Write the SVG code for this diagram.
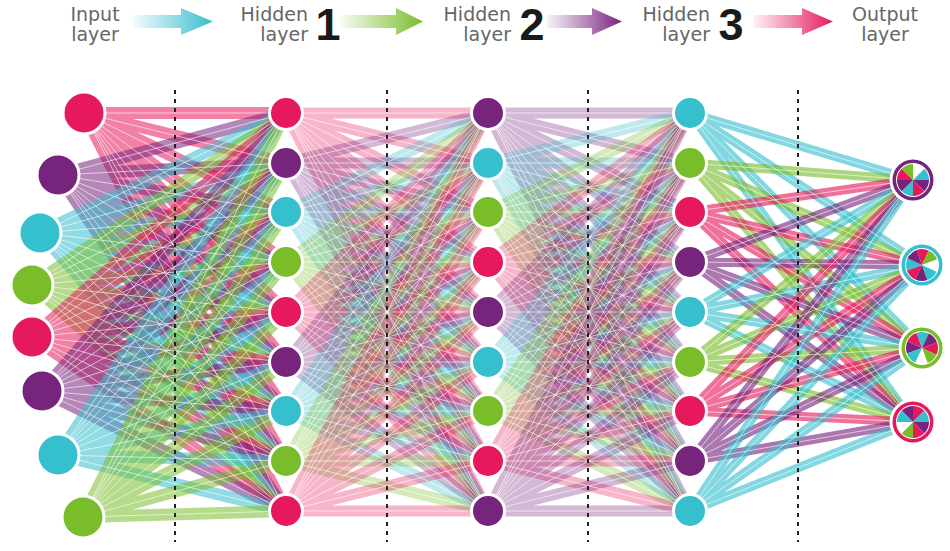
<svg xmlns="http://www.w3.org/2000/svg" xmlns:xlink="http://www.w3.org/1999/xlink" width="950" height="551" viewBox="0 0 950 551">
<style>
.hd{font-family:"DejaVu Sans","Liberation Sans",sans-serif;font-size:19px;fill:#666}
.num{font-family:"Liberation Sans",Arial,sans-serif;font-weight:bold;font-size:45px;fill:#1a1a1a}
.dash{stroke:#222;stroke-width:2;stroke-dasharray:4 5;fill:none}
.R{fill:#e5195b}.P{fill:#77247d}.C{fill:#36bfcd}.G{fill:#79bd2b}
.node{stroke:#fff;stroke-width:3}
.ein{stroke-width:12;stroke-opacity:0.55}
.eh{stroke-width:11;stroke-opacity:0.32}
.eo{stroke-width:9;stroke-opacity:0.62}
.w{stroke:#fff;stroke-width:1;stroke-opacity:0.6}
.sr{stroke:#e5195b}.sp{stroke:#77247d}.sc{stroke:#36bfcd}.sg{stroke:#79bd2b}
</style>
<defs>
<linearGradient id="gc" x1="0" x2="1" y1="0" y2="0"><stop offset="0" stop-color="#36bfcd" stop-opacity="0.05"/><stop offset="1" stop-color="#36bfcd"/></linearGradient>
<linearGradient id="gg" x1="0" x2="1" y1="0" y2="0"><stop offset="0" stop-color="#79bd2b" stop-opacity="0.05"/><stop offset="1" stop-color="#79bd2b"/></linearGradient>
<linearGradient id="gp" x1="0" x2="1" y1="0" y2="0"><stop offset="0" stop-color="#77247d" stop-opacity="0.05"/><stop offset="1" stop-color="#77247d"/></linearGradient>
<linearGradient id="gr" x1="0" x2="1" y1="0" y2="0"><stop offset="0" stop-color="#e5195b" stop-opacity="0.05"/><stop offset="1" stop-color="#e5195b"/></linearGradient>
<path id="a0" fill="none" d="M84 113L286 113M84 113L286 163M84 113L286 212M84 113L286 262M84 113L286 312M84 113L286 362M84 113L286 411M84 113L286 461M84 113L286 511"/>
<path id="a1" fill="none" d="M58 175L286 113M58 175L286 163M58 175L286 212M58 175L286 262M58 175L286 312M58 175L286 362M58 175L286 411M58 175L286 461M58 175L286 511"/>
<path id="a2" fill="none" d="M40 233L286 113M40 233L286 163M40 233L286 212M40 233L286 262M40 233L286 312M40 233L286 362M40 233L286 411M40 233L286 461M40 233L286 511"/>
<path id="a3" fill="none" d="M32 285L286 113M32 285L286 163M32 285L286 212M32 285L286 262M32 285L286 312M32 285L286 362M32 285L286 411M32 285L286 461M32 285L286 511"/>
<path id="a4" fill="none" d="M32 337L286 113M32 337L286 163M32 337L286 212M32 337L286 262M32 337L286 312M32 337L286 362M32 337L286 411M32 337L286 461M32 337L286 511"/>
<path id="a5" fill="none" d="M42 391L286 113M42 391L286 163M42 391L286 212M42 391L286 262M42 391L286 312M42 391L286 362M42 391L286 411M42 391L286 461M42 391L286 511"/>
<path id="a6" fill="none" d="M58 455L286 113M58 455L286 163M58 455L286 212M58 455L286 262M58 455L286 312M58 455L286 362M58 455L286 411M58 455L286 461M58 455L286 511"/>
<path id="a7" fill="none" d="M83 517L286 113M83 517L286 163M83 517L286 212M83 517L286 262M83 517L286 312M83 517L286 362M83 517L286 411M83 517L286 461M83 517L286 511"/>
<path id="f0" fill="none" d="M0 113L202 113M0 113L202 163M0 113L202 212M0 113L202 262M0 113L202 312M0 113L202 362M0 113L202 411M0 113L202 461M0 113L202 511"/>
<path id="f1" fill="none" d="M0 163L202 113M0 163L202 163M0 163L202 212M0 163L202 262M0 163L202 312M0 163L202 362M0 163L202 411M0 163L202 461M0 163L202 511"/>
<path id="f2" fill="none" d="M0 212L202 113M0 212L202 163M0 212L202 212M0 212L202 262M0 212L202 312M0 212L202 362M0 212L202 411M0 212L202 461M0 212L202 511"/>
<path id="f3" fill="none" d="M0 262L202 113M0 262L202 163M0 262L202 212M0 262L202 262M0 262L202 312M0 262L202 362M0 262L202 411M0 262L202 461M0 262L202 511"/>
<path id="f4" fill="none" d="M0 312L202 113M0 312L202 163M0 312L202 212M0 312L202 262M0 312L202 312M0 312L202 362M0 312L202 411M0 312L202 461M0 312L202 511"/>
<path id="f5" fill="none" d="M0 362L202 113M0 362L202 163M0 362L202 212M0 362L202 262M0 362L202 312M0 362L202 362M0 362L202 411M0 362L202 461M0 362L202 511"/>
<path id="f6" fill="none" d="M0 411L202 113M0 411L202 163M0 411L202 212M0 411L202 262M0 411L202 312M0 411L202 362M0 411L202 411M0 411L202 461M0 411L202 511"/>
<path id="f7" fill="none" d="M0 461L202 113M0 461L202 163M0 461L202 212M0 461L202 262M0 461L202 312M0 461L202 362M0 461L202 411M0 461L202 461M0 461L202 511"/>
<path id="f8" fill="none" d="M0 511L202 113M0 511L202 163M0 511L202 212M0 511L202 262M0 511L202 312M0 511L202 362M0 511L202 411M0 511L202 461M0 511L202 511"/>
<path id="g0" fill="none" d="M690 113L913 180M690 113L922 265M690 113L922 348M690 113L913 422"/>
<path id="g1" fill="none" d="M690 163L913 180M690 163L922 265M690 163L922 348M690 163L913 422"/>
<path id="g2" fill="none" d="M690 212L913 180M690 212L922 265M690 212L922 348M690 212L913 422"/>
<path id="g3" fill="none" d="M690 262L913 180M690 262L922 265M690 262L922 348M690 262L913 422"/>
<path id="g4" fill="none" d="M690 312L913 180M690 312L922 265M690 312L922 348M690 312L913 422"/>
<path id="g5" fill="none" d="M690 362L913 180M690 362L922 265M690 362L922 348M690 362L913 422"/>
<path id="g6" fill="none" d="M690 411L913 180M690 411L922 265M690 411L922 348M690 411L913 422"/>
<path id="g7" fill="none" d="M690 461L913 180M690 461L922 265M690 461L922 348M690 461L913 422"/>
<path id="g8" fill="none" d="M690 511L913 180M690 511L922 265M690 511L922 348M690 511L913 422"/>
<g id="pie">
<path class="P" d="M0 0L16 0A16 16 0 0 1 11.31 11.31Z"/>
<path class="R" d="M0 0L11.31 11.31A16 16 0 0 1 0 16Z"/>
<path class="C" d="M0 0L0 16A16 16 0 0 1 -11.31 11.31Z"/>
<path class="P" d="M0 0L-11.31 11.31A16 16 0 0 1 -16 0Z"/>
<path class="R" d="M0 0L-16 0A16 16 0 0 1 -11.31 -11.31Z"/>
<path class="G" d="M0 0L-11.31 -11.31A16 16 0 0 1 0 -16Z"/>
<path fill="#fff" d="M0 0L0 -16A16 16 0 0 1 11.31 -11.31Z"/>
<path class="C" d="M0 0L11.31 -11.31A16 16 0 0 1 16 0Z"/>
</g>
</defs>
<rect width="950" height="551" fill="#fff"/>
<g id="header">
<text class="hd" x="95" y="21" text-anchor="middle">Input</text>
<text class="hd" x="95" y="41" text-anchor="middle">layer</text>
<polygon fill="url(#gc)" points="133,15 181,15 181,8 213,21.5 181,35 181,28 133,28"/>
<text class="hd" x="308" y="21" text-anchor="end">Hidden</text>
<text class="hd" x="308" y="41" text-anchor="end">layer</text>
<text class="num" x="328" y="40" text-anchor="middle">1</text>
<polygon fill="url(#gg)" points="340,15 396,15 396,8 423,21.5 396,35 396,28 340,28"/>
<text class="hd" x="511" y="21" text-anchor="end">Hidden</text>
<text class="hd" x="511" y="41" text-anchor="end">layer</text>
<text class="num" x="532" y="40" text-anchor="middle">2</text>
<polygon fill="url(#gp)" points="547,15 592,15 592,8 622,21.5 592,35 592,28 547,28"/>
<text class="hd" x="710" y="21" text-anchor="end">Hidden</text>
<text class="hd" x="710" y="41" text-anchor="end">layer</text>
<text class="num" x="731" y="40" text-anchor="middle">3</text>
<polygon fill="url(#gr)" points="753,15 802,15 802,8 833,21.5 802,35 802,28 753,28"/>
<text class="hd" x="885" y="21" text-anchor="middle">Output</text>
<text class="hd" x="885" y="41" text-anchor="middle">layer</text>
</g>
<g id="connectors">
<use href="#a0" class="ein sr"/><use href="#a1" class="ein sp"/><use href="#a2" class="ein sc"/><use href="#a3" class="ein sg"/>
<use href="#a4" class="ein sr"/><use href="#a5" class="ein sp"/><use href="#a6" class="ein sc"/><use href="#a7" class="ein sg"/>
<use href="#a0" class="w"/><use href="#a1" class="w"/><use href="#a2" class="w"/><use href="#a3" class="w"/>
<use href="#a4" class="w"/><use href="#a5" class="w"/><use href="#a6" class="w"/><use href="#a7" class="w"/>
<g transform="translate(286,0)">
<use href="#f0" class="eh sr"/><use href="#f1" class="eh sp"/><use href="#f2" class="eh sc"/><use href="#f3" class="eh sg"/><use href="#f4" class="eh sr"/><use href="#f5" class="eh sp"/><use href="#f6" class="eh sc"/><use href="#f7" class="eh sg"/><use href="#f8" class="eh sr"/>
<use href="#f0" class="w"/><use href="#f1" class="w"/><use href="#f2" class="w"/><use href="#f3" class="w"/><use href="#f4" class="w"/><use href="#f5" class="w"/><use href="#f6" class="w"/><use href="#f7" class="w"/><use href="#f8" class="w"/>
</g>
<g transform="translate(488,0)">
<use href="#f0" class="eh sp"/><use href="#f1" class="eh sc"/><use href="#f2" class="eh sg"/><use href="#f3" class="eh sr"/><use href="#f4" class="eh sp"/><use href="#f5" class="eh sc"/><use href="#f6" class="eh sg"/><use href="#f7" class="eh sr"/><use href="#f8" class="eh sp"/>
<use href="#f0" class="w"/><use href="#f1" class="w"/><use href="#f2" class="w"/><use href="#f3" class="w"/><use href="#f4" class="w"/><use href="#f5" class="w"/><use href="#f6" class="w"/><use href="#f7" class="w"/><use href="#f8" class="w"/>
</g>
<use href="#g0" class="eo sc"/><use href="#g1" class="eo sg"/><use href="#g2" class="eo sr"/><use href="#g3" class="eo sp"/><use href="#g4" class="eo sc"/><use href="#g5" class="eo sg"/><use href="#g6" class="eo sr"/><use href="#g7" class="eo sp"/><use href="#g8" class="eo sc"/>
<use href="#g0" class="w"/><use href="#g1" class="w"/><use href="#g2" class="w"/><use href="#g3" class="w"/><use href="#g4" class="w"/><use href="#g5" class="w"/><use href="#g6" class="w"/><use href="#g7" class="w"/><use href="#g8" class="w"/>
</g>
<g id="dividers">
<line class="dash" x1="175" y1="90" x2="175" y2="542"/>
<line class="dash" x1="387" y1="90" x2="387" y2="542"/>
<line class="dash" x1="588" y1="90" x2="588" y2="542"/>
<line class="dash" x1="798" y1="90" x2="798" y2="542"/>
</g>
<g id="input-layer">
<g id="in1"><circle class="node R" cx="84" cy="113" r="21"/></g>
<g id="in2"><circle class="node P" cx="58" cy="175" r="21"/></g>
<g id="in3"><circle class="node C" cx="40" cy="233" r="21"/></g>
<g id="in4"><circle class="node G" cx="32" cy="285" r="21"/></g>
<g id="in5"><circle class="node R" cx="32" cy="337" r="21"/></g>
<g id="in6"><circle class="node P" cx="42" cy="391" r="21"/></g>
<g id="in7"><circle class="node C" cx="58" cy="455" r="21"/></g>
<g id="in8"><circle class="node G" cx="83" cy="517" r="21"/></g>
</g>
<g id="hidden-1">
<g id="h1a"><circle class="node R" cx="286" cy="113" r="16.5"/></g>
<g id="h1b"><circle class="node P" cx="286" cy="163" r="16.5"/></g>
<g id="h1c"><circle class="node C" cx="286" cy="212" r="16.5"/></g>
<g id="h1d"><circle class="node G" cx="286" cy="262" r="16.5"/></g>
<g id="h1e"><circle class="node R" cx="286" cy="312" r="16.5"/></g>
<g id="h1f"><circle class="node P" cx="286" cy="362" r="16.5"/></g>
<g id="h1g"><circle class="node C" cx="286" cy="411" r="16.5"/></g>
<g id="h1h"><circle class="node G" cx="286" cy="461" r="16.5"/></g>
<g id="h1i"><circle class="node R" cx="286" cy="511" r="16.5"/></g>
</g>
<g id="hidden-2">
<g id="h2a"><circle class="node P" cx="488" cy="113" r="16.5"/></g>
<g id="h2b"><circle class="node C" cx="488" cy="163" r="16.5"/></g>
<g id="h2c"><circle class="node G" cx="488" cy="212" r="16.5"/></g>
<g id="h2d"><circle class="node R" cx="488" cy="262" r="16.5"/></g>
<g id="h2e"><circle class="node P" cx="488" cy="312" r="16.5"/></g>
<g id="h2f"><circle class="node C" cx="488" cy="362" r="16.5"/></g>
<g id="h2g"><circle class="node G" cx="488" cy="411" r="16.5"/></g>
<g id="h2h"><circle class="node R" cx="488" cy="461" r="16.5"/></g>
<g id="h2i"><circle class="node P" cx="488" cy="511" r="16.5"/></g>
</g>
<g id="hidden-3">
<g id="h3a"><circle class="node C" cx="690" cy="113" r="16.5"/></g>
<g id="h3b"><circle class="node G" cx="690" cy="163" r="16.5"/></g>
<g id="h3c"><circle class="node R" cx="690" cy="212" r="16.5"/></g>
<g id="h3d"><circle class="node P" cx="690" cy="262" r="16.5"/></g>
<g id="h3e"><circle class="node C" cx="690" cy="312" r="16.5"/></g>
<g id="h3f"><circle class="node G" cx="690" cy="362" r="16.5"/></g>
<g id="h3g"><circle class="node R" cx="690" cy="411" r="16.5"/></g>
<g id="h3h"><circle class="node P" cx="690" cy="461" r="16.5"/></g>
<g id="h3i"><circle class="node C" cx="690" cy="511" r="16.5"/></g>
</g>
<g id="output-layer">
<g id="out1"><circle class="node P" cx="913" cy="180" r="22"/><circle cx="913" cy="180" r="17" fill="#fff"/><use href="#pie" transform="translate(913,180)"/></g>
<g id="out2"><circle class="node C" cx="922" cy="265" r="22"/><circle cx="922" cy="265" r="17" fill="#fff"/><use href="#pie" transform="translate(922,265) rotate(70)"/></g>
<g id="out3"><circle class="node G" cx="922" cy="348" r="22"/><circle cx="922" cy="348" r="17" fill="#fff"/><use href="#pie" transform="translate(922,348) rotate(160)"/></g>
<g id="out4"><circle class="node R" cx="913" cy="422" r="22"/><circle cx="913" cy="422" r="17" fill="#fff"/><use href="#pie" transform="translate(913,422) rotate(225)"/></g>
</g>
</svg>
